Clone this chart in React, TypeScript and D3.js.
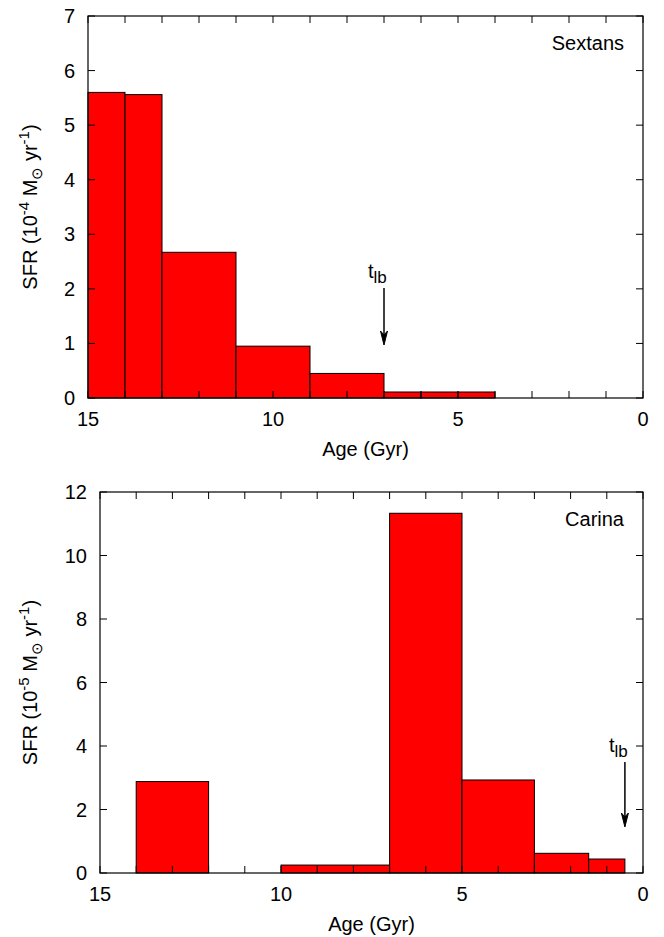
import React from 'react';
import * as d3 from 'd3';

// Sextans: age bins (Gyr) and SFR (1e-4 Msun/yr)
const sextansFrom = [15, 14, 13, 11, 9, 7, 6, 5];
const sextansTo = [14, 13, 11, 9, 7, 6, 5, 4];
const sextansSfr = [5.6, 5.56, 2.67, 0.95, 0.45, 0.11, 0.11, 0.11];

// Carina: age bins (Gyr) and SFR (1e-5 Msun/yr)
const carinaFrom = [14, 10, 7, 5, 3, 1.5];
const carinaTo = [12, 7, 5, 3, 1.5, 0.5];
const carinaSfr = [2.88, 0.25, 11.33, 2.93, 0.62, 0.44];

const xTickLabels = [15, 10, 5, 0];
const sextansYTicks = [0, 1, 2, 3, 4, 5, 6, 7];
const carinaYTicks = [0, 2, 4, 6, 8, 10, 12];
const minorAges = d3.range(0, 16);

const FONT = '"Liberation Sans", Arial, Helvetica, sans-serif';
const TICK = 7;

interface PanelProps {
  left: number;
  right: number;
  top: number;
  bottom: number;
  yMax: number;
  yTicks: number[];
  from: number[];
  to: number[];
  sfr: number[];
  name: string;
  exponent: string;
  tlb: number;
  arrowTop: number;
  arrowBottom: number;
}

const Panel: React.FC<PanelProps> = (p) => {
  const x = d3.scaleLinear().domain([15, 0]).range([p.left, p.right]);
  const y = d3.scaleLinear().domain([0, p.yMax]).range([p.bottom, p.top]);
  const ax = x(p.tlb);
  const midY = (p.top + p.bottom) / 2;
  const midX = (p.left + p.right) / 2;

  return (
    <g fontFamily={FONT} fontSize={20} fill="#000">
      {p.sfr.map((v, i) => (
        <rect
          key={i}
          x={x(p.from[i])}
          width={x(p.to[i]) - x(p.from[i])}
          y={y(v)}
          height={y(0) - y(v)}
          fill="#ff0000"
          stroke="#000"
          strokeWidth={1}
        />
      ))}
      {/* x ticks, bottom and top, inward */}
      {minorAges.map((a) => (
        <g key={'xt' + a} stroke="#000" strokeWidth={1}>
          <line x1={x(a)} x2={x(a)} y1={p.bottom} y2={p.bottom - TICK} />
          <line x1={x(a)} x2={x(a)} y1={p.top} y2={p.top + TICK} />
        </g>
      ))}
      {p.yTicks.map((t) => (
        <g key={'yt' + t} stroke="#000" strokeWidth={1}>
          <line x1={p.left} x2={p.left + TICK} y1={y(t)} y2={y(t)} />
          <line x1={p.right} x2={p.right - TICK} y1={y(t)} y2={y(t)} />
        </g>
      ))}
      <rect x={p.left} y={p.top} width={p.right - p.left} height={p.bottom - p.top} fill="none" stroke="#000" strokeWidth={1.2} />
      {xTickLabels.map((t) => (
        <text key={'xl' + t} x={x(t)} y={p.bottom + 28} textAnchor="middle">
          {t}
        </text>
      ))}
      {p.yTicks.map((t) => (
        <text key={'yl' + t} x={p.left - 13} y={y(t) + 7} textAnchor="end">
          {t}
        </text>
      ))}
      <text x={midX} y={p.bottom + 58} textAnchor="middle">
        Age (Gyr)
      </text>
      <text transform={`translate(37,${midY}) rotate(-90)`} textAnchor="middle">
        SFR (10
        <tspan dy={-8} fontSize={15}>{p.exponent}</tspan>
        <tspan dy={8}> M</tspan>
        <tspan dy={5} fontSize={15}>{'\u2299'}</tspan>
        <tspan dy={-5}> yr</tspan>
        <tspan dy={-8} fontSize={15}>-1</tspan>
        <tspan dy={8}>)</tspan>
      </text>
      <text x={p.right - 19} y={p.top + 34} textAnchor="end">
        {p.name}
      </text>
      {/* look-back time marker */}
      <text x={ax - 16} y={p.arrowTop - 10}>
        t<tspan dy={5} fontSize={17}>lb</tspan>
      </text>
      <line x1={ax} x2={ax} y1={p.arrowTop} y2={p.arrowBottom - 6} stroke="#000" strokeWidth={1.5} />
      <path
        d={`M${ax},${p.arrowBottom} L${ax - 3.5},${p.arrowBottom - 14} L${ax},${p.arrowBottom - 10} L${ax + 3.5},${p.arrowBottom - 14} Z`}
        fill="#000"
        stroke="#000"
        strokeWidth={1}
      />
    </g>
  );
};

const App: React.FC = () => {
  return (
    <svg
      width={664}
      height={937}
      style={{ position: 'absolute', left: 0, top: 0, background: '#fff' }}
    >
      <Panel
        left={88}
        right={643}
        top={16}
        bottom={398}
        yMax={7}
        yTicks={sextansYTicks}
        from={sextansFrom}
        to={sextansTo}
        sfr={sextansSfr}
        name="Sextans"
        exponent="-4"
        tlb={7}
        arrowTop={288}
        arrowBottom={345}
      />
      <Panel
        left={100}
        right={643}
        top={492}
        bottom={873}
        yMax={12}
        yTicks={carinaYTicks}
        from={carinaFrom}
        to={carinaTo}
        sfr={carinaSfr}
        name="Carina"
        exponent="-5"
        tlb={0.5}
        arrowTop={762}
        arrowBottom={827}
      />
    </svg>
  );
};

export default App;
